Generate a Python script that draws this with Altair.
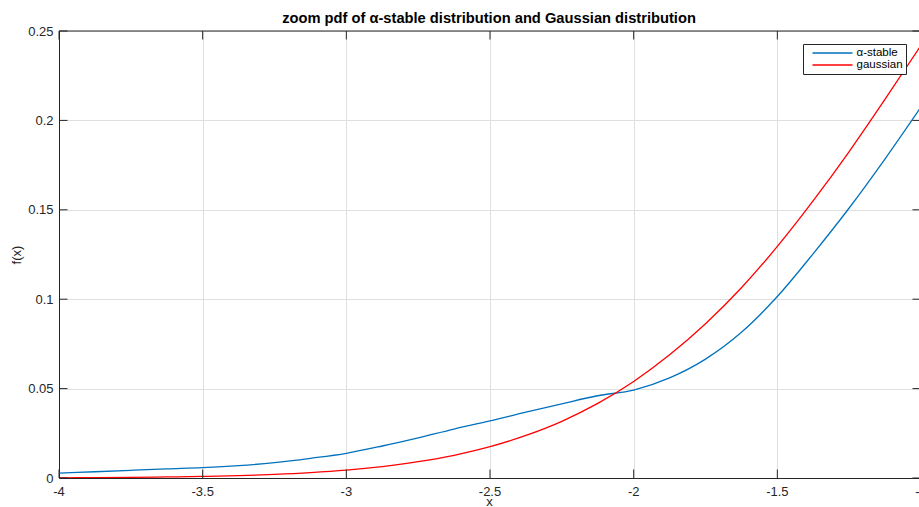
import altair as alt
import pandas as pd

# Sample positions along x and the two densities read at them
x_vals = [-4.0, -3.875, -3.75, -3.625, -3.5, -3.375, -3.25, -3.125, -3.0,
          -2.875, -2.75, -2.625, -2.5, -2.375, -2.25, -2.125, -2.0,
          -1.875, -1.75, -1.625, -1.5, -1.375, -1.25, -1.125, -1.0]
stable_pdf = [0.0027, 0.0035, 0.0043, 0.0051, 0.0058, 0.0069, 0.0086, 0.0110, 0.0138,
              0.0179, 0.0225, 0.0274, 0.0319, 0.0368, 0.0415, 0.0460, 0.0492,
              0.0560, 0.0665, 0.0815, 0.1015, 0.1255, 0.1510, 0.1785, 0.2075]
gauss_pdf = [0.0001, 0.0002, 0.0004, 0.0006, 0.0009, 0.0013, 0.0020, 0.0030, 0.0044,
             0.0064, 0.0091, 0.0127, 0.0175, 0.0238, 0.0317, 0.0417, 0.0540,
             0.0689, 0.0863, 0.1064, 0.1295, 0.1551, 0.1826, 0.2119, 0.2420]

series_names = ["\u03b1-stable", "gaussian"]
series_colors = ["#0072BD", "#FF0000"]

x_ticks = [-4.0, -3.5, -3.0, -2.5, -2.0, -1.5, -1.0]
x_tick_labels = ["-4", "-3.5", "-3", "-2.5", "-2", "-1.5", "-1"]
y_ticks = [0.0, 0.05, 0.1, 0.15, 0.2, 0.25]

W, H = 860, 447
TICK = 8.5
FONT = "Liberation Sans"
INK = "#262626"

x_scale = alt.Scale(domain=[-4.0, -1.007], nice=False, zero=False)
y_scale = alt.Scale(domain=[0.0, 0.25], nice=False, zero=False)
x_axis = alt.Axis(values=x_ticks, labels=False, ticks=False, grid=True,
                  title="x", titlePadding=17)
y_axis = alt.Axis(values=y_ticks, format="~g", ticks=False, grid=True,
                  labelPadding=6, title="f(x)", titlePadding=4)

curves = pd.DataFrame({
    "x": x_vals * 2,
    "f": stable_pdf + gauss_pdf,
    "series": [series_names[0]] * len(x_vals) + [series_names[1]] * len(x_vals),
})
xt = pd.DataFrame({"x": x_ticks, "label": x_tick_labels})
yt = pd.DataFrame({"f": y_ticks})
one = pd.DataFrame({"k": [0]})

X = alt.X("x:Q", scale=x_scale, axis=x_axis)
Y = alt.Y("f:Q", scale=y_scale, axis=y_axis)

lines = alt.Chart(curves).mark_line(strokeWidth=1.3, interpolate="monotone", clip=True).encode(
    x=X, y=Y,
    color=alt.Color("series:N",
                    scale=alt.Scale(domain=series_names, range=series_colors),
                    sort=series_names,
                    legend=alt.Legend(title=None, orient="none", legendX=744, legendY=13,
                                      symbolType="M-4,0H4", symbolSize=100,
                                      symbolStrokeWidth=1.3, symbolOffset=20.5,
                                      labelOffset=18, padding=3, rowPadding=0,
                                      fillColor="white", strokeColor=INK,
                                      labelFont=FONT, labelFontSize=11.5,
                                      labelColor="#000000")),
)

top_border = alt.Chart(one).mark_rule(color=INK, strokeWidth=1).encode(
    x=alt.value(0), x2=alt.value(W), y=alt.value(0)
)

bottom_ticks = alt.Chart(xt).mark_rule(color=INK, strokeWidth=1).encode(
    x=X, y=alt.value(H), y2=alt.value(H - TICK)
)
top_ticks = alt.Chart(xt).mark_rule(color=INK, strokeWidth=1).encode(
    x=X, y=alt.value(0), y2=alt.value(TICK)
)
left_ticks = alt.Chart(yt).mark_rule(color=INK, strokeWidth=1).encode(
    y=Y, x=alt.value(0), x2=alt.value(TICK)
)
right_ticks = alt.Chart(yt).mark_rule(color=INK, strokeWidth=1).encode(
    y=Y, x=alt.value(W + 2), x2=alt.value(W + 2 - TICK)
)
x_labels = alt.Chart(xt).mark_text(font=FONT, fontSize=13, color=INK,
                                   baseline="alphabetic", align="center").encode(
    x=X, y=alt.value(H + 18), text="label:N"
)

chart = alt.layer(
    lines, top_border, bottom_ticks, top_ticks, left_ticks, right_ticks, x_labels
).properties(
    width=W, height=H,
    title="zoom pdf of \u03b1-stable distribution and Gaussian distribution",
    autosize=alt.AutoSizeParams(type="none"),
    padding={"left": 59, "top": 31, "right": 0, "bottom": 29},
).configure_view(
    stroke=None
).configure_axis(
    domainColor=INK, domainWidth=1,
    gridColor="#dfdfdf", gridWidth=1,
    labelFont=FONT, labelFontSize=13, labelColor=INK,
    titleFont=FONT, titleFontSize=13, titleFontWeight="normal", titleColor=INK,
).configure_title(
    font=FONT, fontSize=14.7, fontWeight="bold", color="#000000",
    anchor="middle", offset=-1,
)

chart.save("out.html", embed_options={"renderer": "svg", "actions": False})
